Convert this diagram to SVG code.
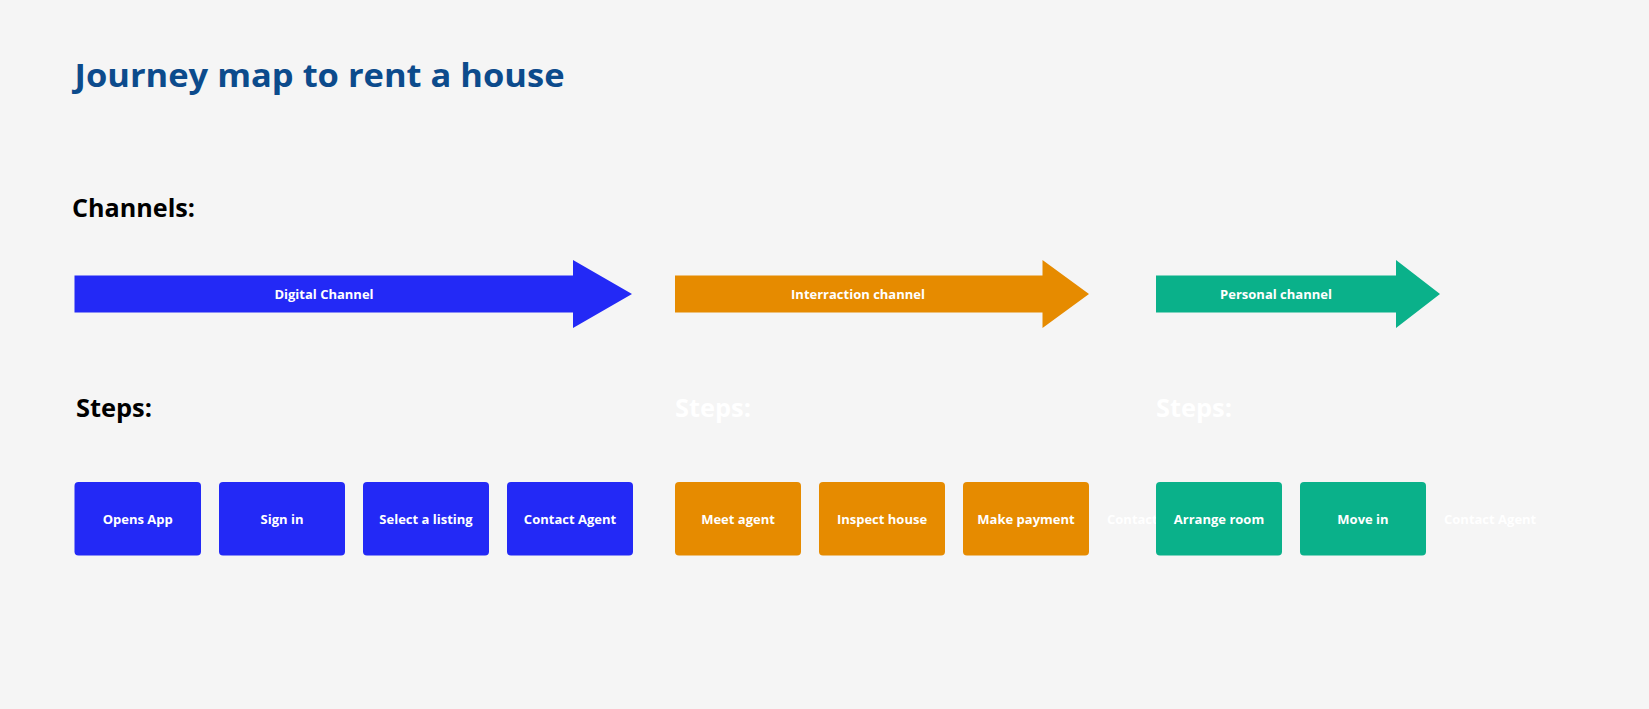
<svg xmlns="http://www.w3.org/2000/svg" width="1649" height="709" viewBox="0 0 1649 709">
  <style>
    text { font-family: "Open Sans", "Liberation Sans", Arial, sans-serif; font-weight: 700; }
    .title { font-size: 32px; fill: #0c4b8c; }
    .head { font-size: 25px; fill: #000000; }
    .head-w { font-size: 25px; fill: #ffffff; }
    .lbl { font-size: 13px; fill: #ffffff; text-anchor: middle; }
    .lbl-s { font-size: 13px; fill: #ffffff; }
    .blue { fill: #2329f6; }
    .orange { fill: #e68b00; }
    .green { fill: #0ab18a; }
  </style>
  <defs>
    <clipPath id="clip-hidden-1">
      <rect x="1100" y="480" width="56" height="80"/>
    </clipPath>
  </defs>
  <rect x="0" y="0" width="1649" height="709" fill="#f5f5f5"/>

  <text class="title" x="74.5" y="86.5" textLength="490" lengthAdjust="spacingAndGlyphs">Journey map to rent a house</text>
  <text class="head" x="72" y="217" textLength="123" lengthAdjust="spacingAndGlyphs">Channels:</text>
  <text class="head" x="76" y="416.5" textLength="76" lengthAdjust="spacingAndGlyphs">Steps:</text>
  <text class="head-w" x="675" y="416.5" textLength="76" lengthAdjust="spacingAndGlyphs">Steps:</text>
  <text class="head-w" x="1156" y="416.5" textLength="76" lengthAdjust="spacingAndGlyphs">Steps:</text>

  <g id="channel-digital">
    <path class="blue" d="M74.5,275.5 H573 V260 L632,294 L573,328 V312.5 H74.5 Z"/>
    <text class="lbl" x="324" y="298.5">Digital Channel</text>
  </g>
  <g id="channel-interaction">
    <path class="orange" d="M675,275.5 H1042.5 V260 L1089,294 L1042.5,328 V312.5 H675 Z"/>
    <text class="lbl" x="858" y="298.5">Interraction channel</text>
  </g>
  <g id="channel-personal">
    <path class="green" d="M1156,275.5 H1396 V260 L1440,294 L1396,328 V312.5 H1156 Z"/>
    <text class="lbl" x="1276" y="298.5">Personal channel</text>
  </g>

  <g id="connectors"></g>

  <g id="step-opens-app">
    <rect class="blue" x="74.5" y="482" width="126.5" height="73.5" rx="4"/>
    <text class="lbl" x="137.75" y="523.5">Opens App</text>
  </g>
  <g id="step-sign-in">
    <rect class="blue" x="219" y="482" width="126" height="73.5" rx="4"/>
    <text class="lbl" x="282" y="523.5">Sign in</text>
  </g>
  <g id="step-select-listing">
    <rect class="blue" x="363" y="482" width="126" height="73.5" rx="4"/>
    <text class="lbl" x="426" y="523.5">Select a listing</text>
  </g>
  <g id="step-contact-agent">
    <rect class="blue" x="507" y="482" width="126" height="73.5" rx="4"/>
    <text class="lbl" x="570" y="523.5">Contact Agent</text>
  </g>

  <g id="step-meet-agent">
    <rect class="orange" x="675" y="482" width="126" height="73.5" rx="4"/>
    <text class="lbl" x="738" y="523.5">Meet agent</text>
  </g>
  <g id="step-inspect-house">
    <rect class="orange" x="819" y="482" width="126" height="73.5" rx="4"/>
    <text class="lbl" x="882" y="523.5">Inspect house</text>
  </g>
  <g id="step-make-payment">
    <rect class="orange" x="963" y="482" width="126" height="73.5" rx="4"/>
    <text class="lbl" x="1026" y="523.5">Make payment</text>
  </g>
  <g id="step-hidden-1" clip-path="url(#clip-hidden-1)">
    <text class="lbl-s" x="1107" y="523.5">Contact Agent</text>
  </g>

  <g id="step-arrange-room">
    <rect class="green" x="1156" y="482" width="126" height="73.5" rx="4"/>
    <text class="lbl" x="1219" y="523.5">Arrange room</text>
  </g>
  <g id="step-move-in">
    <rect class="green" x="1300" y="482" width="126" height="73.5" rx="4"/>
    <text class="lbl" x="1363" y="523.5">Move in</text>
  </g>
  <g id="step-hidden-2">
    <text class="lbl-s" x="1444" y="523.5">Contact Agent</text>
  </g>
</svg>
